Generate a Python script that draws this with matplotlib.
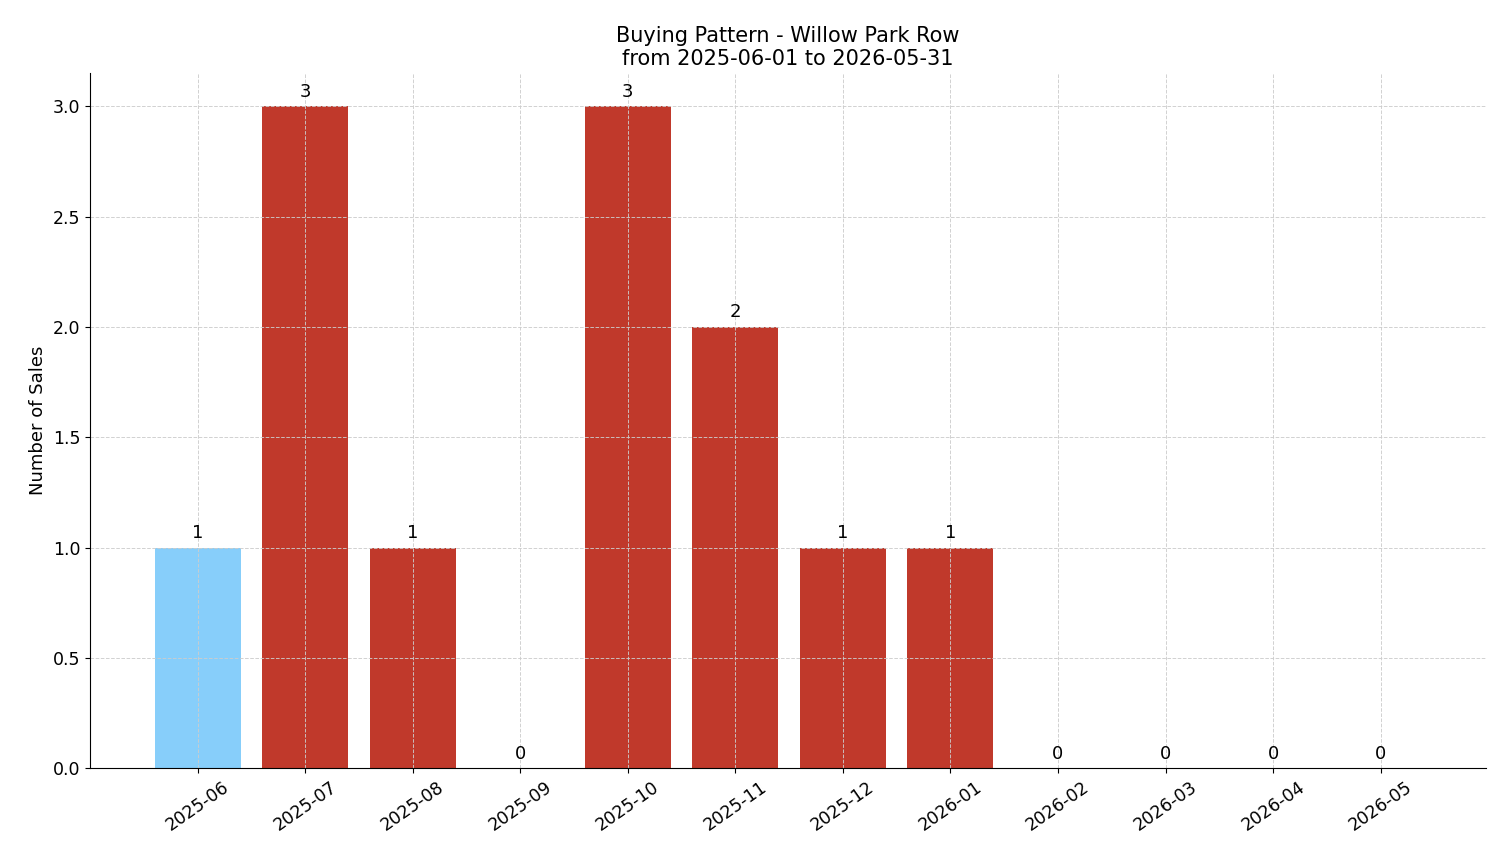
import matplotlib
matplotlib.use("Agg")
import matplotlib.pyplot as plt

months = ["2025-06", "2025-07", "2025-08", "2025-09", "2025-10", "2025-11",
          "2025-12", "2026-01", "2026-02", "2026-03", "2026-04", "2026-05"]
sales = [1, 3, 1, 0, 3, 2, 1, 1, 0, 0, 0, 0]
colors = ["#87CEFA"] + ["#C0392B"] * 11

fig, ax = plt.subplots(figsize=(15.01, 8.63), dpi=100)
bars = ax.bar(months, sales, color=colors, width=0.8)
for b, v in zip(bars, sales):
    ax.annotate(str(v), (b.get_x() + b.get_width() / 2, v), xytext=(0, 4),
                textcoords="offset points", ha="center", va="bottom", fontsize=13)

ax.set_title("Buying Pattern - Willow Park Row\nfrom 2025-06-01 to 2026-05-31", fontsize=15)
ax.set_ylabel("Number of Sales", fontsize=13)
ax.set_ylim(0, 3.15)
ax.set_xlim(-1.0, 11.98)
ax.grid(True, linestyle="--", color="#cccccc", linewidth=0.7, alpha=0.9)
ax.spines["top"].set_visible(False)
ax.spines["right"].set_visible(False)
ax.tick_params(axis="x", labelrotation=35, labelsize=12.5)
ax.tick_params(axis="y", labelsize=12.5)
plt.setp(ax.get_xticklabels(), ha="center")
fig.subplots_adjust(left=0.06, right=0.99, top=0.915, bottom=0.11)
fig.savefig("out.png", dpi=100)
